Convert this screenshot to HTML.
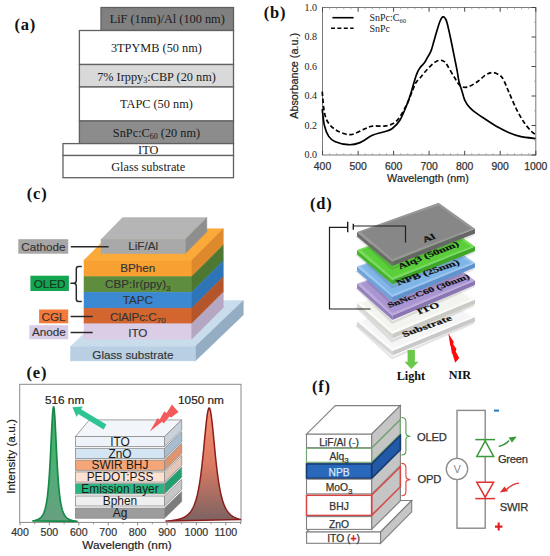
<!DOCTYPE html>
<html><head><meta charset="utf-8"><title>Figure</title><style>
html,body{margin:0;padding:0;background:#fff;width:550px;height:556px;overflow:hidden}
svg{display:block}
text{font-family:"Liberation Sans",sans-serif;fill:#222}
.lbl{font-family:"Liberation Serif",serif;font-weight:bold;font-size:16.5px;fill:#111;letter-spacing:0.8px}
.ta{font-family:"Liberation Serif",serif;font-size:12.3px;text-anchor:middle;fill:#1a1a1a}
.tbs{font-family:"Liberation Serif",serif;font-size:10px;fill:#222}
.tbx{font-size:10.4px;fill:#333;stroke:#333;stroke-width:0.25px}
.tbt{font-size:10.8px;fill:#222;stroke:#222;stroke-width:0.2px}
.tc{font-size:11.7px;text-anchor:middle;fill:#333;stroke:#333;stroke-width:0.15px}
.td{font-family:"Liberation Serif",serif;font-weight:bold;fill:#111;stroke:#111;stroke-width:0.3px}
.tl{font-family:"Liberation Serif",serif;font-weight:bold;font-size:12.2px;fill:#111}
.te{font-size:10.6px;fill:#333;stroke:#333;stroke-width:0.2px}
.tet{font-size:11.8px;fill:#222;stroke:#222;stroke-width:0.2px}
.tes{font-size:11.9px;fill:#1a1a1a}
.tf{font-size:10.3px;fill:#333;stroke:#333;stroke-width:0.25px}
.tf2{font-size:11.2px;fill:#333;stroke:#333;stroke-width:0.25px;letter-spacing:-0.25px}
</style></head>
<body><svg width="550" height="556" viewBox="0 0 550 556">
<rect width="550" height="556" fill="#fff"/>
<text x="14.5" y="30" class="lbl">(a)</text>
<rect x="101" y="7.5" width="132.5" height="23.0" fill="#808080" stroke="#606060" stroke-width="1.3"/>
<rect x="79.4" y="30.5" width="154.1" height="34.0" fill="#ffffff" stroke="#606060" stroke-width="1.3"/>
<rect x="79.4" y="64.5" width="154.1" height="22.5" fill="#d9d9d9" stroke="#606060" stroke-width="1.3"/>
<rect x="79.4" y="87" width="154.1" height="34.0" fill="#ffffff" stroke="#606060" stroke-width="1.3"/>
<rect x="79.4" y="121" width="154.1" height="22.6" fill="#8c8c8c" stroke="#606060" stroke-width="1.3"/>
<rect x="63" y="143.6" width="170.5" height="11.9" fill="#ffffff" stroke="#606060" stroke-width="1.3"/>
<rect x="63" y="155.5" width="170.5" height="22.2" fill="#ffffff" stroke="#606060" stroke-width="1.3"/>
<text x="167.2" y="23.2" class="ta">LiF (1nm)/Al (100 nm)</text>
<text x="156.4" y="51.7" class="ta">3TPYMB (50 nm)</text>
<text x="156.4" y="108.2" class="ta">TAPC (50 nm)</text>
<text x="148.2" y="153.8" class="ta">ITO</text>
<text x="148.2" y="170.8" class="ta">Glass substrate</text>
<text x="156.5" y="80.8" class="ta">7% Irppy<tspan font-size="8" dy="2.5">3</tspan><tspan dy="-2.5">:CBP (20 nm)</tspan></text>
<text x="156.5" y="136.5" class="ta">SnPc:C<tspan font-size="8" dy="2.5">60</tspan><tspan dy="-2.5"> (20 nm)</tspan></text>
<text x="263.8" y="17.9" class="lbl">(b)</text>
<rect x="322.5" y="7.5" width="213.3" height="147.5" stroke="#7a7a7a" stroke-width="1" fill="none"/>
<path d="M329.6,155.0v-1.8M329.6,7.5v1.8M336.7,155.0v-1.8M336.7,7.5v1.8M343.8,155.0v-1.8M343.8,7.5v1.8M350.9,155.0v-1.8M350.9,7.5v1.8M365.2,155.0v-1.8M365.2,7.5v1.8M372.3,155.0v-1.8M372.3,7.5v1.8M379.4,155.0v-1.8M379.4,7.5v1.8M386.5,155.0v-1.8M386.5,7.5v1.8M400.7,155.0v-1.8M400.7,7.5v1.8M407.8,155.0v-1.8M407.8,7.5v1.8M414.9,155.0v-1.8M414.9,7.5v1.8M422.0,155.0v-1.8M422.0,7.5v1.8M436.3,155.0v-1.8M436.3,7.5v1.8M443.4,155.0v-1.8M443.4,7.5v1.8M450.5,155.0v-1.8M450.5,7.5v1.8M457.6,155.0v-1.8M457.6,7.5v1.8M471.8,155.0v-1.8M471.8,7.5v1.8M478.9,155.0v-1.8M478.9,7.5v1.8M486.0,155.0v-1.8M486.0,7.5v1.8M493.1,155.0v-1.8M493.1,7.5v1.8M507.4,155.0v-1.8M507.4,7.5v1.8M514.5,155.0v-1.8M514.5,7.5v1.8M521.6,155.0v-1.8M521.6,7.5v1.8M528.7,155.0v-1.8M528.7,7.5v1.8M535.8,140.2h-1.8M535.8,110.8h-1.8M535.8,81.2h-1.8M535.8,51.8h-1.8M535.8,22.2h-1.8" stroke="#999" stroke-width="0.8" fill="none"/>
<path d="M322.5,155.0v-4.2M322.5,7.5v4.2M358.1,155.0v-4.2M358.1,7.5v4.2M393.6,155.0v-4.2M393.6,7.5v4.2M429.1,155.0v-4.2M429.1,7.5v4.2M464.7,155.0v-4.2M464.7,7.5v4.2M500.2,155.0v-4.2M500.2,7.5v4.2M535.8,155.0v-4.2M535.8,7.5v4.2M535.8,155.0h-4.2M535.8,125.5h-4.2M535.8,96.0h-4.2M535.8,66.5h-4.2M535.8,37.0h-4.2M535.8,7.5h-4.2" stroke="#444" stroke-width="1" fill="none"/>
<text x="317" y="158.2" class="tbs" text-anchor="end">0.0</text>
<text x="317" y="128.7" class="tbs" text-anchor="end">0.2</text>
<text x="317" y="99.2" class="tbs" text-anchor="end">0.4</text>
<text x="317" y="69.7" class="tbs" text-anchor="end">0.6</text>
<text x="317" y="40.2" class="tbs" text-anchor="end">0.8</text>
<text x="317" y="10.7" class="tbs" text-anchor="end">1.0</text>
<text x="322.5" y="169.5" class="tbx" text-anchor="middle">400</text>
<text x="358.1" y="169.5" class="tbx" text-anchor="middle">500</text>
<text x="393.6" y="169.5" class="tbx" text-anchor="middle">600</text>
<text x="429.1" y="169.5" class="tbx" text-anchor="middle">700</text>
<text x="464.7" y="169.5" class="tbx" text-anchor="middle">800</text>
<text x="500.2" y="169.5" class="tbx" text-anchor="middle">900</text>
<text x="535.8" y="169.5" class="tbx" text-anchor="middle">1000</text>
<text x="428" y="182.3" class="tbt" text-anchor="middle">Wavelength (nm)</text>
<text transform="translate(297.8,75.9) rotate(-90)" class="tbt" text-anchor="middle">Absorbance (a.u.)</text>
<path d="M332.4,17.7H353.6" stroke="#000" stroke-width="1.6"/>
<path d="M331,28.3H353.6" stroke="#000" stroke-width="1.6" stroke-dasharray="4,2.4"/>
<text x="369.5" y="20.8" class="tbs" font-size="9.2">SnPc:C<tspan font-size="6.5" dy="2">60</tspan></text>
<text x="369.5" y="31.5" class="tbs" font-size="9.2">SnPc</text>
<path d="M322.2,109.1 C322.6,111.8 323.3,121.0 324.4,125.5 C325.5,130.1 326.9,133.7 328.7,136.4 C330.5,139.1 332.0,140.4 335.3,141.8 C338.6,143.2 344.4,144.5 348.4,144.7 C352.4,144.9 355.3,144.5 359.3,142.9 C363.3,141.3 368.4,137.1 372.4,135.3 C376.4,133.5 380.0,133.1 383.3,132.0 C386.6,130.9 389.2,130.7 392.0,128.7 C394.8,126.7 397.4,124.3 400.0,120.0 C402.6,115.7 405.7,107.6 407.6,102.9 C409.5,98.2 410.3,95.0 411.4,91.6 C412.4,88.2 413.0,85.8 413.9,82.7 C414.8,79.7 415.9,75.8 417.0,73.3 C418.1,70.8 418.9,69.4 420.2,67.6 C421.5,65.8 423.4,64.2 424.6,62.6 C425.8,61.0 426.4,59.2 427.2,57.8 C428.0,56.4 428.7,55.6 429.4,54.2 C430.1,52.8 430.8,51.6 431.5,49.6 C432.2,47.6 432.9,44.8 433.6,42.3 C434.3,39.8 435.1,37.1 435.8,34.6 C436.5,32.1 437.2,29.7 437.9,27.4 C438.6,25.1 439.4,22.6 440.1,21.0 C440.8,19.4 441.5,18.3 442.0,17.6 C442.5,16.9 442.8,16.8 443.3,16.9 C443.8,17.0 444.6,17.4 445.2,18.4 C445.8,19.4 446.2,19.8 447.1,22.9 C448.0,26.0 449.2,32.0 450.3,37.0 C451.4,42.0 452.7,48.8 453.6,53.1 C454.5,57.4 455.0,60.0 455.6,63.0 C456.2,66.0 456.6,68.1 457.2,71.2 C457.8,74.3 458.2,78.4 459.0,81.6 C459.8,84.8 460.9,87.7 461.7,90.2 C462.5,92.7 463.1,95.1 463.6,96.8 C464.2,98.5 464.3,99.2 465.0,100.6 C465.7,102.0 466.3,103.4 467.6,105.1 C468.9,106.8 470.8,108.9 473.0,110.7 C475.2,112.5 478.2,114.5 480.6,116.1 C483.0,117.7 484.4,118.6 487.3,120.5 C490.2,122.4 494.6,125.3 498.2,127.3 C501.8,129.3 505.5,131.2 509.1,132.7 C512.7,134.2 515.6,135.4 520.0,136.4 C524.4,137.4 532.9,138.2 535.5,138.5" stroke="#000" stroke-width="1.7" fill="none"/>
<path d="M322.2,91.6 C322.6,95.1 323.3,107.1 324.4,112.4 C325.5,117.7 326.5,120.2 328.7,123.3 C330.9,126.4 333.9,129.0 337.5,130.9 C341.1,132.8 346.1,134.8 350.5,134.6 C354.9,134.3 360.0,130.8 363.6,129.4 C367.2,128.0 368.8,126.7 372.4,126.1 C376.0,125.5 381.5,126.7 385.5,125.9 C389.5,125.1 392.9,124.5 396.4,121.1 C399.9,117.7 403.6,110.5 406.3,105.4 C409.0,100.3 411.0,94.1 412.6,90.3 C414.2,86.5 414.5,84.8 415.8,82.7 C417.1,80.6 418.4,79.8 420.2,77.7 C422.0,75.6 424.4,72.5 426.5,70.2 C428.6,67.9 431.1,65.4 432.8,63.9 C434.5,62.4 435.3,61.8 436.6,61.2 C437.9,60.6 439.2,60.1 440.5,60.2 C441.8,60.3 443.1,60.6 444.3,61.6 C445.5,62.6 446.1,63.6 447.8,66.2 C449.5,68.9 452.5,74.3 454.5,77.5 C456.5,80.7 457.9,83.9 460.0,85.5 C462.1,87.1 464.3,87.7 467.0,87.2 C469.7,86.7 473.2,84.5 476.3,82.5 C479.4,80.5 482.9,76.7 485.6,75.0 C488.3,73.3 490.3,72.4 492.7,72.5 C495.1,72.6 498.2,74.2 500.0,75.5 C501.8,76.8 502.1,77.1 503.6,80.0 C505.1,82.9 507.0,87.9 509.1,92.7 C511.2,97.5 514.0,104.2 516.4,109.1 C518.8,113.9 521.2,118.2 523.6,121.8 C526.0,125.4 528.9,128.8 530.9,130.9 C532.9,133.0 534.7,133.9 535.5,134.5" stroke="#000" stroke-width="1.7" fill="none" stroke-dasharray="4.5,2.6"/>
<text x="26.8" y="199.4" class="lbl">(c)</text>
<polygon points="70.5,346.6 195.3,346.6 243.3,300.6 118.5,300.6" fill="#c9dcec" stroke="#c9dcec" stroke-width="0.5" stroke-linejoin="round"/>
<polygon points="195.3,346.6 243.3,300.6 243.3,314.9 195.3,360.9" fill="#94adc3" stroke="#94adc3" stroke-width="0.5" stroke-linejoin="round"/>
<rect x="70.5" y="346.6" width="124.8" height="14.3" fill="#b9d0e4" stroke="#b9d0e4" stroke-width="0.5"/>
<polygon points="84.0,260.2 191.7,260.2 223.3,228.7 115.6,228.7" fill="#fbaa3a" stroke="#fbaa3a" stroke-width="0.5" stroke-linejoin="round"/>
<rect x="84" y="260.2" width="107.7" height="16.4" fill="#f8a132" stroke="#f8a132" stroke-width="0.5"/>
<polygon points="191.7,260.2 223.3,228.7 223.3,245.1 191.7,276.6" fill="#de8a2c" stroke="#de8a2c" stroke-width="0.5" stroke-linejoin="round"/>
<rect x="84" y="276.6" width="107.7" height="15.6" fill="#5e8e3d" stroke="#5e8e3d" stroke-width="0.5"/>
<polygon points="191.7,276.6 223.3,245.1 223.3,260.7 191.7,292.2" fill="#4d7833" stroke="#4d7833" stroke-width="0.5" stroke-linejoin="round"/>
<rect x="84" y="292.2" width="107.7" height="16.0" fill="#3b88d3" stroke="#3b88d3" stroke-width="0.5"/>
<polygon points="191.7,292.2 223.3,260.7 223.3,276.7 191.7,308.2" fill="#2f74b6" stroke="#2f74b6" stroke-width="0.5" stroke-linejoin="round"/>
<rect x="84" y="308.2" width="107.7" height="15.6" fill="#d3662f" stroke="#d3662f" stroke-width="0.5"/>
<polygon points="191.7,308.2 223.3,276.7 223.3,292.3 191.7,323.8" fill="#b5552b" stroke="#b5552b" stroke-width="0.5" stroke-linejoin="round"/>
<rect x="84" y="323.8" width="107.7" height="15.3" fill="#dacde5" stroke="#dacde5" stroke-width="0.5"/>
<polygon points="191.7,323.8 223.3,292.3 223.3,307.6 191.7,339.1" fill="#b5a6c2" stroke="#b5a6c2" stroke-width="0.5" stroke-linejoin="round"/>
<polygon points="101.0,239.5 185.3,239.5 206.8,217.6 122.5,217.6" fill="#b5b5b5" stroke="#b5b5b5" stroke-width="0.5" stroke-linejoin="round"/>
<polygon points="185.3,239.5 206.8,217.6 206.8,231.7 185.3,253.6" fill="#8e8e8e" stroke="#8e8e8e" stroke-width="0.5" stroke-linejoin="round"/>
<rect x="101" y="239.5" width="84.3" height="14.1" fill="#a8a8a8" stroke="#a8a8a8" stroke-width="0.5"/>
<text x="143.2" y="250.4" class="tc">LiF/Al</text>
<text x="137.8" y="272.2" class="tc">BPhen</text>
<text x="137.8" y="288.2" class="tc">CBP:Ir(ppy)<tspan font-size="8" dy="2.5">3</tspan></text>
<text x="137.8" y="304.2" class="tc">TAPC</text>
<text x="137.8" y="320.8" class="tc">ClAlPc:C<tspan font-size="8" dy="2.5">70</tspan></text>
<text x="137.8" y="336.6" class="tc">ITO</text>
<text x="132.9" y="358.6" class="tc">Glass substrate</text>
<rect x="18.3" y="239.2" width="49.9" height="14.5" fill="#a6a6a6"/>
<text x="43.3" y="250.6" class="tc">Cathode</text>
<rect x="30.4" y="275.7" width="38.5" height="15.3" fill="#13a550"/>
<text x="49.6" y="287.7" class="tc" style="fill:#173520;stroke:#173520">OLED</text>
<rect x="39.1" y="309.5" width="29.1" height="13.8" fill="#f47a3a"/>
<text x="53.6" y="320.6" class="tc">CGL</text>
<rect x="29.3" y="325.2" width="38.9" height="14.1" fill="#d8cce6"/>
<text x="48.8" y="336.4" class="tc">Anode</text>
<path d="M70.8,246.7H108.6" stroke="#2a2a2a" stroke-width="1.5" fill="none"/>
<path d="M70.6,316.6H92.7M70.6,332.4H92.7" stroke="#2a2a2a" stroke-width="1.5" fill="none"/>
<path d="M81.8,266.6H78.6Q76.3,266.6 76.3,269V280.6Q76.3,283.3 73.5,283.3H70.4M73.5,283.3Q76.3,283.3 76.3,286V299Q76.3,301.5 78.6,301.5H81.8" stroke="#2a2a2a" stroke-width="1.5" fill="none"/>
<text x="310" y="209.3" class="lbl">(d)</text>
<polygon points="358.0,326.9 392.3,358.1 474.0,322.6" fill="none" stroke="#000" stroke-opacity="0.10" stroke-width="2.5"/>
<polygon points="357.0,321.3 392.3,351.0 392.3,355.6 357.0,325.9" fill="#d6d6d6" />
<polygon points="392.3,351.0 475.0,317.0 475.0,321.6 392.3,355.6" fill="#c9c9c9" />
<polygon points="357.0,321.3 438.6,292.1 475.0,317.0 392.3,351.0" fill="#fcfcfc" />
<polygon points="361.2,321.3 438.6,294.7 470.8,317.0 392.3,348.4" fill="#f5f5f5" />
<polygon points="358.0,308.6 392.3,340.9 474.0,305.0" fill="none" stroke="#000" stroke-opacity="0.10" stroke-width="2.5"/>
<polygon points="357.0,303.0 392.3,333.8 392.3,338.4 357.0,307.6" fill="#d8d8d2" />
<polygon points="392.3,333.8 475.0,299.4 475.0,304.0 392.3,338.4" fill="#cbcbc5" />
<polygon points="357.0,303.0 438.6,273.8 475.0,299.4 392.3,333.8" fill="#fbfbf8" />
<polygon points="361.2,303.0 438.6,276.4 470.8,299.4 392.3,331.2" fill="#f3f3ef" />
<polygon points="358.0,289.4 392.3,322.6 474.0,286.1" fill="none" stroke="#000" stroke-opacity="0.10" stroke-width="2.5"/>
<polygon points="357.0,283.8 392.3,315.5 392.3,320.1 357.0,288.4" fill="#9581bd" />
<polygon points="392.3,315.5 475.0,280.5 475.0,285.1 392.3,320.1" fill="#8a76b3" />
<polygon points="357.0,283.8 438.6,254.6 475.0,280.5 392.3,315.5" fill="#bba9dc" />
<polygon points="361.2,283.8 438.6,257.2 470.8,280.5 392.3,312.9" fill="#a995d1" />
<polygon points="358.0,272.2 392.3,304.2 474.0,268.6" fill="none" stroke="#000" stroke-opacity="0.10" stroke-width="2.5"/>
<polygon points="357.0,266.6 392.3,297.1 392.3,301.7 357.0,271.2" fill="#6ea2d8" />
<polygon points="392.3,297.1 475.0,263.0 475.0,267.6 392.3,301.7" fill="#5f93cc" />
<polygon points="357.0,266.6 438.6,237.4 475.0,263.0 392.3,297.1" fill="#9ac6f0" />
<polygon points="361.2,266.6 438.6,240.0 470.8,263.0 392.3,294.5" fill="#80b5e8" />
<polygon points="358.0,255.6 392.3,287.1 474.0,252.1" fill="none" stroke="#000" stroke-opacity="0.10" stroke-width="2.5"/>
<polygon points="357.0,250.0 392.3,280.0 392.3,284.6 357.0,254.6" fill="#46b42c" />
<polygon points="392.3,280.0 475.0,246.5 475.0,251.1 392.3,284.6" fill="#3fa628" />
<polygon points="357.0,250.0 438.6,220.8 475.0,246.5 392.3,280.0" fill="#78dc5a" />
<polygon points="361.2,250.0 438.6,223.4 470.8,246.5 392.3,277.4" fill="#5bcf3b" />
<polygon points="358.0,237.6 392.3,268.6 474.0,234.4" fill="none" stroke="#000" stroke-opacity="0.10" stroke-width="2.5"/>
<polygon points="357.0,232.0 392.3,261.5 392.3,266.1 357.0,236.6" fill="#6c6c6c" />
<polygon points="392.3,261.5 475.0,228.8 475.0,233.4 392.3,266.1" fill="#666666" />
<polygon points="357.0,232.0 438.6,202.8 475.0,228.8 392.3,261.5" fill="#979797" />
<polygon points="361.2,232.0 438.6,205.4 470.8,228.8 392.3,258.9" fill="#878787" />
<path d="M347.7,227.3H329.5V309H370.5" stroke="#1e1e1e" stroke-width="1.2" fill="none"/>
<path d="M353.3,226.0H405.5V242.6" stroke="#1e1e1e" stroke-width="1.2" fill="none"/>
<path d="M347.7,221.8V232.3M353.3,223.8V229.8" stroke="#1e1e1e" stroke-width="1.4"/>
<text transform="matrix(0.9304,-0.3665,0.4,0.56,424.5,242.8)" class="td" font-size="12.5">Al</text>
<text transform="matrix(0.9304,-0.3665,0.4,0.56,400.0,269.2)" class="td" font-size="12.0">Alq3 (50nm)</text>
<text transform="matrix(0.9455,-0.3256,0.4,0.56,398.4,285.4)" class="td" font-size="12.4">NPB (25nm)</text>
<text transform="matrix(0.9385,-0.3453,0.4,0.56,389.4,307.8)" class="td" font-size="11.3">SnNc:C60 (30nm)</text>
<text transform="matrix(0.9367,-0.3502,0.4,0.56,419.0,314.6)" class="td" font-size="12.5">ITO</text>
<text transform="matrix(0.9409,-0.3387,0.4,0.56,404.3,337.2)" class="td" font-size="12.5">Substrate</text>
<polygon points="407.6,350 414.9,350 414.9,361.8 418.5,361.8 411.3,369.1 404.5,361.8 407.6,361.8" fill="#6cc84a"/>
<polygon points="448.4,333.6 453.8,342 453.1,343.9 456.4,349.1 455.7,351.4 459.2,358 455.2,362.7 452.6,354.2 451.8,353 450.8,346.6 450.2,345.5" fill="#ff0a0a"/>
<text x="396.7" y="380" class="tl">Light</text>
<text x="448.7" y="378.8" class="tl">NIR</text>
<text x="26.5" y="378.3" class="lbl">(e)</text>
<rect x="19.7" y="384.3" width="221.3" height="138.1" fill="none" stroke="#8a8a8a" stroke-width="1"/>
<path d="M20.0,522.4v3M34.7,522.4v1.8M49.4,522.4v3M64.1,522.4v1.8M78.8,522.4v3M93.5,522.4v1.8M108.2,522.4v3M122.9,522.4v1.8M137.6,522.4v3M152.3,522.4v1.8M167.0,522.4v3M181.7,522.4v1.8M196.4,522.4v3M211.1,522.4v1.8M225.8,522.4v3M240.5,522.4v1.8" stroke="#808080" stroke-width="0.9"/>
<text x="20.0" y="535.6" class="te" text-anchor="middle">400</text>
<text x="49.4" y="535.6" class="te" text-anchor="middle">500</text>
<text x="78.8" y="535.6" class="te" text-anchor="middle">600</text>
<text x="108.2" y="535.6" class="te" text-anchor="middle">700</text>
<text x="137.6" y="535.6" class="te" text-anchor="middle">800</text>
<text x="167.0" y="535.6" class="te" text-anchor="middle">900</text>
<text x="196.4" y="535.6" class="te" text-anchor="middle">1000</text>
<text x="225.8" y="535.6" class="te" text-anchor="middle">1100</text>
<text x="127" y="549.1" class="tet" text-anchor="middle">Wavelength (nm)</text>
<text transform="translate(14.6,456.4) rotate(-90)" class="tet" text-anchor="middle">Intensity (a.u.)</text>
<defs><linearGradient id="gg" x1="0" y1="0" x2="0" y2="1"><stop offset="0" stop-color="#3fb46c"/><stop offset="0.5" stop-color="#4fae76"/><stop offset="1" stop-color="#68a082"/></linearGradient><linearGradient id="rg" x1="0" y1="0" x2="0" y2="1"><stop offset="0" stop-color="#fa8d6c"/><stop offset="0.5" stop-color="#db7b63"/><stop offset="1" stop-color="#7b6262"/></linearGradient></defs>
<path d="M33.00,520.93 L33.27,520.88 L33.55,520.83 L33.83,520.77 L34.10,520.72 L34.38,520.65 L34.65,520.59 L34.92,520.52 L35.20,520.45 L35.48,520.37 L35.75,520.29 L36.02,520.21 L36.30,520.12 L36.58,520.03 L36.85,519.92 L37.12,519.82 L37.40,519.70 L37.67,519.58 L37.95,519.45 L38.23,519.32 L38.50,519.17 L38.77,519.01 L39.05,518.85 L39.33,518.67 L39.60,518.48 L39.88,518.28 L40.15,518.06 L40.42,517.82 L40.70,517.57 L40.98,517.30 L41.25,517.01 L41.52,516.69 L41.80,516.35 L42.08,515.99 L42.35,515.59 L42.62,515.16 L42.90,514.69 L43.17,514.19 L43.45,513.64 L43.73,513.04 L44.00,512.39 L44.27,511.68 L44.55,510.90 L44.83,510.05 L45.10,509.12 L45.38,508.11 L45.65,506.99 L45.92,505.76 L46.20,504.42 L46.48,502.93 L46.75,501.30 L47.02,499.51 L47.30,497.53 L47.58,495.35 L47.85,492.95 L48.12,490.31 L48.40,487.41 L48.67,484.23 L48.95,480.74 L49.23,476.94 L49.50,472.82 L49.77,468.36 L50.05,463.57 L50.33,458.46 L50.60,453.09 L50.88,447.48 L51.15,441.73 L51.42,435.94 L51.70,430.24 L51.98,424.78 L52.25,419.74 L52.52,415.30 L52.80,411.64 L53.08,408.93 L53.35,407.29 L53.62,406.80 L53.90,407.50 L54.17,409.34 L54.45,412.24 L54.73,416.05 L55.00,420.62 L55.27,425.75 L55.55,431.26 L55.83,436.99 L56.10,442.79 L56.38,448.51 L56.65,454.08 L56.92,459.41 L57.20,464.46 L57.48,469.19 L57.75,473.59 L58.02,477.66 L58.30,481.40 L58.58,484.83 L58.85,487.96 L59.12,490.81 L59.40,493.40 L59.67,495.76 L59.95,497.90 L60.23,499.84 L60.50,501.61 L60.77,503.21 L61.05,504.67 L61.33,506.00 L61.60,507.20 L61.88,508.30 L62.15,509.30 L62.42,510.21 L62.70,511.05 L62.98,511.81 L63.25,512.51 L63.52,513.15 L63.80,513.74 L64.08,514.28 L64.35,514.78 L64.62,515.24 L64.90,515.66 L65.17,516.06 L65.45,516.42 L65.72,516.75 L66.00,517.06 L66.28,517.35 L66.55,517.62 L66.83,517.87 L67.10,518.10 L67.38,518.31 L67.65,518.52 L67.92,518.70 L68.20,518.88 L68.47,519.04 L68.75,519.20 L69.03,519.34 L69.30,519.48 L69.58,519.61 L69.85,519.72 L70.12,519.84 L70.40,519.94 L70.67,520.04 L70.95,520.14 L71.22,520.23 L71.50,520.31 L71.78,520.39 L72.05,520.46 L72.33,520.53 L72.60,520.60 L72.88,520.67 L73.15,520.73 L73.42,520.78 L73.70,520.84 L73.97,520.89 L74.25,520.94 L74.53,520.99 L74.80,521.03 L75.08,521.07 L75.35,521.11 L75.62,521.15 L75.90,521.19 L76.17,521.22 L76.45,521.26 L76.72,521.29 L77.00,521.32 Z" fill="url(#gg)" stroke="#168a46" stroke-width="1.7" stroke-linejoin="round"/>
<path d="M166.00,521.10 L166.47,521.07 L166.93,521.03 L167.40,520.99 L167.86,520.95 L168.33,520.91 L168.79,520.87 L169.26,520.83 L169.72,520.78 L170.19,520.73 L170.66,520.68 L171.12,520.63 L171.59,520.57 L172.05,520.51 L172.52,520.45 L172.98,520.39 L173.45,520.32 L173.92,520.25 L174.38,520.18 L174.85,520.10 L175.31,520.02 L175.78,519.93 L176.24,519.84 L176.71,519.75 L177.18,519.65 L177.64,519.54 L178.11,519.43 L178.57,519.31 L179.04,519.19 L179.50,519.06 L179.97,518.92 L180.43,518.77 L180.90,518.62 L181.37,518.46 L181.83,518.28 L182.30,518.10 L182.76,517.90 L183.23,517.69 L183.69,517.47 L184.16,517.24 L184.62,516.99 L185.09,516.72 L185.56,516.44 L186.02,516.13 L186.49,515.81 L186.95,515.46 L187.42,515.09 L187.88,514.69 L188.35,514.26 L188.82,513.81 L189.28,513.31 L189.75,512.79 L190.21,512.22 L190.68,511.61 L191.14,510.95 L191.61,510.23 L192.07,509.47 L192.54,508.64 L193.01,507.74 L193.47,506.77 L193.94,505.72 L194.40,504.58 L194.87,503.34 L195.33,502.00 L195.80,500.55 L196.27,498.98 L196.73,497.27 L197.20,495.41 L197.66,493.40 L198.13,491.21 L198.59,488.85 L199.06,486.29 L199.53,483.52 L199.99,480.54 L200.46,477.33 L200.92,473.89 L201.39,470.21 L201.85,466.29 L202.32,462.15 L202.78,457.79 L203.25,453.25 L203.72,448.55 L204.18,443.74 L204.65,438.88 L205.11,434.05 L205.58,429.33 L206.04,424.82 L206.51,420.63 L206.97,416.87 L207.44,413.65 L207.91,411.07 L208.37,409.22 L208.84,408.15 L209.30,407.92 L209.77,408.52 L210.23,409.95 L210.70,412.13 L211.17,415.01 L211.63,418.48 L212.10,422.44 L212.56,426.79 L213.03,431.40 L213.49,436.18 L213.96,441.03 L214.43,445.88 L214.89,450.65 L215.36,455.28 L215.82,459.75 L216.29,464.01 L216.75,468.06 L217.22,471.87 L217.68,475.44 L218.15,478.78 L218.62,481.89 L219.08,484.77 L219.55,487.45 L220.01,489.92 L220.48,492.20 L220.94,494.31 L221.41,496.25 L221.88,498.04 L222.34,499.69 L222.81,501.21 L223.27,502.61 L223.74,503.90 L224.20,505.09 L224.67,506.19 L225.13,507.21 L225.60,508.14 L226.07,509.01 L226.53,509.81 L227.00,510.56 L227.46,511.24 L227.93,511.88 L228.39,512.47 L228.86,513.03 L229.32,513.54 L229.79,514.01 L230.26,514.46 L230.72,514.87 L231.19,515.26 L231.65,515.62 L232.12,515.95 L232.58,516.27 L233.05,516.56 L233.52,516.84 L233.98,517.10 L234.45,517.34 L234.91,517.57 L235.38,517.79 L235.84,517.99 L236.31,518.18 L236.78,518.36 L237.24,518.53 L237.71,518.69 L238.17,518.84 L238.64,518.98 L239.10,519.12 L239.57,519.25 L240.03,519.37 L240.50,519.48 Z" fill="url(#rg)" stroke="#8a1c1c" stroke-width="1.5" stroke-linejoin="round"/>
<text x="64.6" y="403.6" class="tet" text-anchor="middle">516 nm</text>
<text x="201" y="403.9" class="tet" text-anchor="middle">1050 nm</text>
<polygon points="75.4,436.5 164.5,436.5 181.7,419.9 89.4,419.9" fill="#f2f6fb" stroke="#8a8a8a" stroke-width="0.8"/>
<polygon points="164.5,508.1 181.7,491.5 181.7,501.6 164.5,518.2" fill="#7c7c7c" stroke="#8a8a8a" stroke-width="0.8"/>
<rect x="75.4" y="508.1" width="89.1" height="10.1" fill="#9c9c9c" stroke="#8a8a8a" stroke-width="0.8"/>
<text x="120.0" y="517.3" class="tes" text-anchor="middle">Ag</text>
<polygon points="164.5,496.0 181.7,479.4 181.7,489.4 164.5,506.0" fill="#c6c6c6" stroke="#8a8a8a" stroke-width="0.8"/>
<rect x="75.4" y="496.0" width="89.1" height="10.0" fill="#efefef" stroke="#8a8a8a" stroke-width="0.8"/>
<text x="120.0" y="505.1" class="tes" text-anchor="middle">Bphen</text>
<polygon points="164.5,483.7 181.7,467.1 181.7,477.3 164.5,493.9" fill="#22a070" stroke="#8a8a8a" stroke-width="0.8"/>
<rect x="75.4" y="483.7" width="89.1" height="10.2" fill="#2ab680" stroke="#8a8a8a" stroke-width="0.8"/>
<text x="120.0" y="492.9" class="tes" text-anchor="middle">Emission layer</text>
<polygon points="164.5,471.9 181.7,455.3 181.7,465.5 164.5,482.1" fill="#e2c6b8" stroke="#8a8a8a" stroke-width="0.8"/>
<rect x="75.4" y="471.9" width="89.1" height="10.2" fill="#fde2d2" stroke="#8a8a8a" stroke-width="0.8"/>
<text x="120.0" y="481.1" class="tes" text-anchor="middle">PEDOT:PSS</text>
<polygon points="164.5,460.1 181.7,443.5 181.7,453.7 164.5,470.3" fill="#de9670" stroke="#8a8a8a" stroke-width="0.8"/>
<rect x="75.4" y="460.1" width="89.1" height="10.2" fill="#f5a678" stroke="#8a8a8a" stroke-width="0.8"/>
<text x="120.0" y="469.3" class="tes" text-anchor="middle">SWIR BHJ</text>
<polygon points="164.5,448.3 181.7,431.7 181.7,441.9 164.5,458.5" fill="#a9bdd0" stroke="#8a8a8a" stroke-width="0.8"/>
<rect x="75.4" y="448.3" width="89.1" height="10.2" fill="#d3e4f2" stroke="#8a8a8a" stroke-width="0.8"/>
<text x="120.0" y="457.5" class="tes" text-anchor="middle">ZnO</text>
<polygon points="164.5,436.5 181.7,419.9 181.7,430.0 164.5,446.6" fill="#c9d1dc" stroke="#8a8a8a" stroke-width="0.8"/>
<rect x="75.4" y="436.5" width="89.1" height="10.1" fill="#eef3f9" stroke="#8a8a8a" stroke-width="0.8"/>
<text x="120.0" y="445.7" class="tes" text-anchor="middle">ITO</text>
<polygon points="106.4,424.6 81.1,409.3 82.9,406.4 72.4,407.3 76.5,417.0 78.2,414.1 103.6,429.4" fill="#2ec493" />
<polygon points="149.8,431.6 157.6,418.0 159.6,419.7 164.1,411.5 166.6,413.1 171.9,404.5 178.5,411.9 171.1,417.6 169.5,416.4 163.7,423.4 162.1,421.7" fill="#f55a5a" />
<text x="312" y="391.6" class="lbl">(f)</text>
<polygon points="306.6,532.0 380.5,532.0 411.7,500.5 337.8,500.5" fill="#ffffff" stroke="#7f7f7f" stroke-width="1.1"/>
<polygon points="380.5,532.0 411.7,500.5 411.7,511.8 380.5,543.3" fill="#c6c6c6" stroke="#7f7f7f" stroke-width="1.1"/>
<rect x="306.6" y="532.0" width="73.9" height="11.3" fill="#fff" stroke="#7f7f7f" stroke-width="1.1"/>
<polygon points="306.5,434.2 371.6,434.2 400.4,405.6 335.3,405.6" fill="#ffffff" stroke="#7f7f7f" stroke-width="1.1"/>
<polygon points="371.6,434.2 400.4,405.6 400.4,500.8 371.6,529.4" fill="#c5c5c5" stroke="#7f7f7f" stroke-width="1.1"/>
<path d="M371.6,447.7L400.40000000000003,419.09999999999997" stroke="#808080" stroke-width="1"/>
<rect x="306.5" y="434.2" width="65.1" height="13.5" fill="#ffffff" stroke="#808080" stroke-width="1.1"/>
<text x="339.1" y="445.8" class="tf" style="fill:#333;stroke:#333" text-anchor="middle">LiF/Al (<tspan style="fill:#2a7fc0;stroke:#2a7fc0">-</tspan>)</text>
<polygon points="371.6,448.3 400.4,419.7 400.4,433.7 371.6,462.3" fill="none" stroke="#76a876" stroke-width="1.2"/>
<rect x="306.5" y="448.3" width="65.1" height="14.0" fill="#ffffff" stroke="#76a876" stroke-width="1.2"/>
<text x="339.1" y="460.2" class="tf" style="fill:#333;stroke:#333" text-anchor="middle">Alq<tspan font-size="8" dy="2.5">3</tspan></text>
<polygon points="371.6,463.9 400.4,435.3 400.4,449.7 371.6,478.3" fill="#235aa8" stroke="#16396e" stroke-width="1.6"/>
<rect x="306.5" y="463.9" width="65.1" height="14.4" fill="#2a68bc" stroke="#16396e" stroke-width="1.6"/>
<text x="339.1" y="476.0" class="tf" style="fill:#dfe9f6;stroke:#dfe9f6" text-anchor="middle">NPB</text>
<path d="M371.6,493.9L400.40000000000003,465.29999999999995" stroke="#808080" stroke-width="1"/>
<rect x="306.5" y="479.2" width="65.1" height="14.7" fill="#ffffff" stroke="#808080" stroke-width="1.1"/>
<text x="339.1" y="491.4" class="tf" style="fill:#333;stroke:#333" text-anchor="middle">MoO<tspan font-size="8" dy="2.5">3</tspan></text>
<polygon points="371.6,495.3 400.4,466.7 400.4,486.8 371.6,515.4" fill="none" stroke="#d84545" stroke-width="1.5"/>
<rect x="306.5" y="495.3" width="65.1" height="20.1" fill="#ffffff" stroke="#d84545" stroke-width="1.5"/>
<text x="339.1" y="510.2" class="tf" style="fill:#333;stroke:#333" text-anchor="middle">BHJ</text>
<path d="M371.6,529.4L400.40000000000003,500.79999999999995" stroke="#808080" stroke-width="1"/>
<rect x="306.5" y="516.6" width="65.1" height="12.8" fill="#ffffff" stroke="#808080" stroke-width="1.1"/>
<text x="339.1" y="527.9" class="tf" style="fill:#333;stroke:#333" text-anchor="middle">ZnO</text>
<text x="343.6" y="542.2" class="tf" text-anchor="middle">ITO (<tspan style="fill:#e02020;stroke:#e02020;font-weight:bold">+</tspan>)</text>
<path d="M401.4,417.5Q405.9,417.5 405.9,421.5V433.25Q405.9,436.25 410.4,436.25Q405.9,436.25 405.9,439.25V451.0Q405.9,455.0 401.4,455.0" stroke="#4e9e4e" stroke-width="1.1" fill="none"/>
<path d="M401.4,463.4Q405.9,463.4 405.9,467.4V476.6Q405.9,479.6 410.4,479.6Q405.9,479.6 405.9,482.6V491.8Q405.9,495.8 401.4,495.8" stroke="#e04040" stroke-width="1.1" fill="none"/>
<text x="417" y="440.9" class="tf2">OLED</text>
<text x="417.5" y="483.1" class="tf2">OPD</text>
<rect x="457" y="410.4" width="28.2" height="117.8" stroke="#8a8a8a" stroke-width="1.4" fill="none"/>
<circle cx="457" cy="469" r="10.7" fill="#fff" stroke="#8a8a8a" stroke-width="1.3"/>
<text x="457" y="473.2" class="tf2" style="fill:#8a8a8a;stroke:none" text-anchor="middle">V</text>
<polygon points="485.2,440.9 493.6,456.4 476.8,456.4" fill="#fff" stroke="#3a9a3a" stroke-width="1.5"/>
<path d="M475.3,439.6H495.1" stroke="#3a9a3a" stroke-width="1.5"/>
<polygon points="476.8,482.3 493.6,482.3 485.2,497.2" fill="#fff" stroke="#e03030" stroke-width="1.5"/>
<path d="M475.3,498.6H495.1" stroke="#e03030" stroke-width="1.5"/>
<text x="497.9" y="463.4" class="tf2">Green</text>
<text x="499.8" y="510.5" class="tf2">SWIR</text>
<path d="M494,410.6H499" stroke="#2a7fc0" stroke-width="2.1"/>
<path d="M495,526.6H502.4M498.7,522.6V530.6" stroke="#e02020" stroke-width="2.1"/>
<path d="M498.7,446.5Q506,444.5 509,440.5" stroke="#3a9a3a" stroke-width="1.4" fill="none"/>
<polygon points="516.8,436.6 508.5,437.5 512,442.5" fill="#3a9a3a"/>
<path d="M519,483.1Q512,484 506.5,489.5" stroke="#e03030" stroke-width="1.4" fill="none"/>
<polygon points="499.8,492.4 504.5,486.5 508.2,491.2" fill="#e03030"/>
</svg></body></html>
